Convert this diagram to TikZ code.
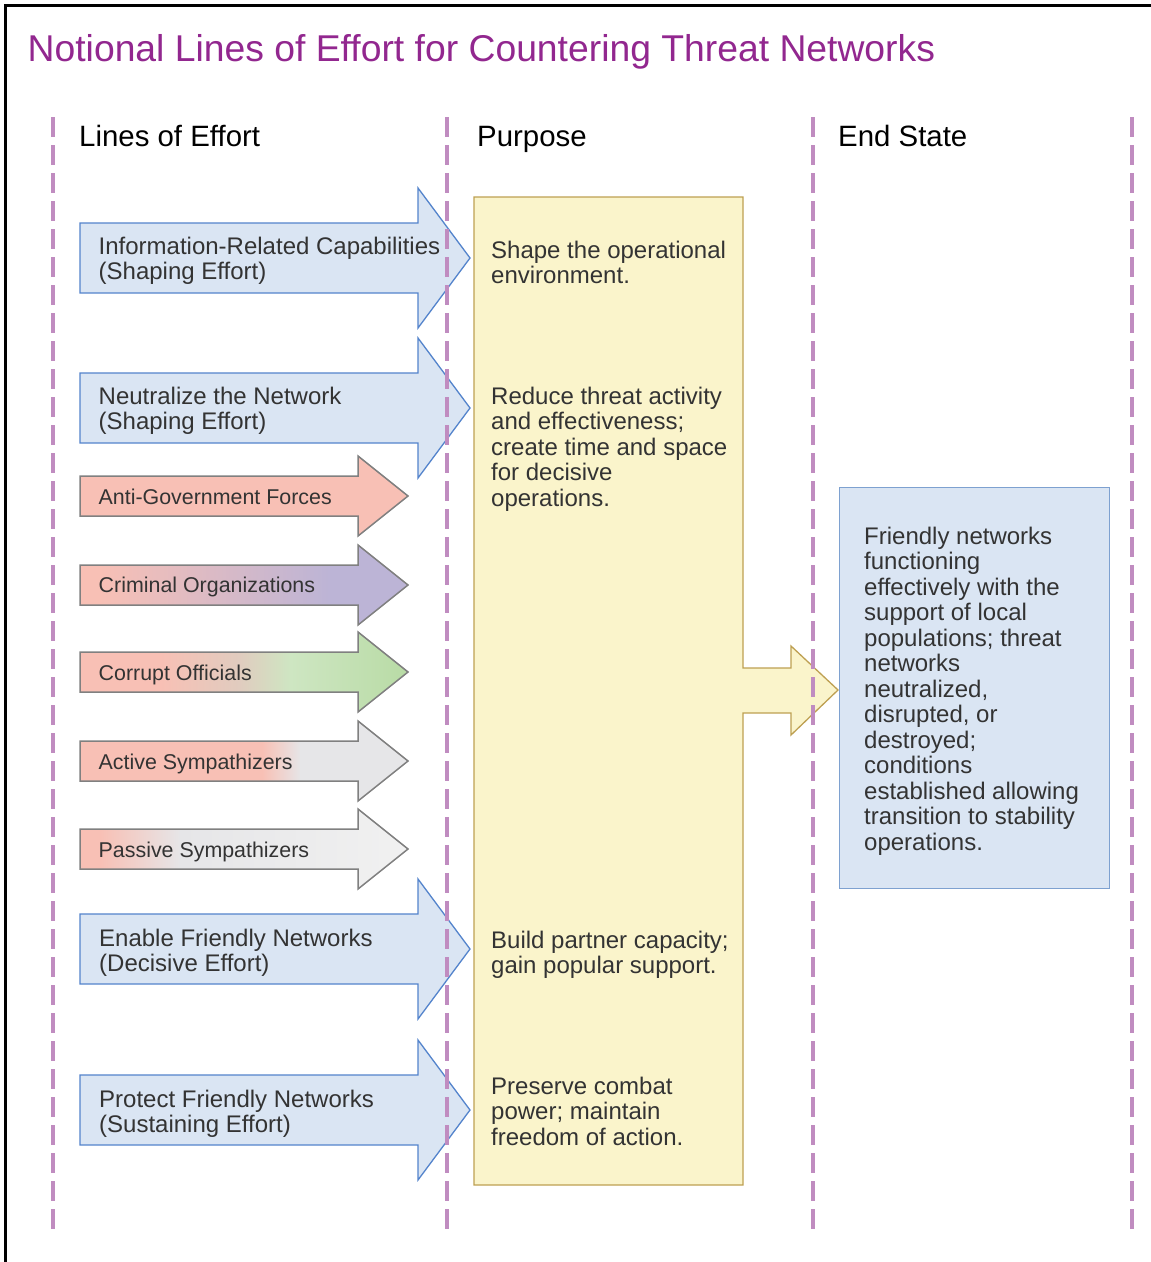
\documentclass[tikz,border=0pt]{standalone}
\usepackage{fontspec}
\setmainfont{Liberation Sans}
\definecolor{titlepurple}{RGB}{146,39,143}
\definecolor{guide}{RGB}{192,140,192}
\definecolor{bluefill}{RGB}{218,229,243}
\definecolor{bluedraw}{RGB}{84,132,204}
\definecolor{boxdraw}{RGB}{126,161,208}
\definecolor{salmon}{RGB}{248,192,181}
\definecolor{lilac}{RGB}{188,180,214}
\definecolor{leaf}{RGB}{184,219,165}
\definecolor{fog}{RGB}{230,230,232}
\definecolor{mist}{RGB}{241,241,241}
\definecolor{arrowgray}{RGB}{128,128,128}
\definecolor{cream}{RGB}{250,244,203}
\definecolor{creamdraw}{RGB}{190,160,82}
\definecolor{ink}{RGB}{51,51,51}
% multi-line text whose baseline is the first line
\newcommand\lns[1]{\parbox[t]{420pt}{\raggedright #1}}
% horizontal colour band inside a clipped arrow
\newcommand\loeband[5]{\shade[left color=#4,right color=#5] (#1,#3-42) rectangle (#2,#3+42);}
\begin{document}
\begin{tikzpicture}[x=1pt,y=-1pt,
  loe big/.style={insert path={(80,#1-35) -- (418,#1-35) -- (418,#1-70) -- (470,#1) -- (418,#1+70) -- (418,#1+35) -- (80,#1+35) -- cycle}},
  loe small/.style={insert path={(80,#1-20) -- (358,#1-20) -- (358,#1-40) -- (408,#1) -- (358,#1+40) -- (358,#1+20) -- (80,#1+20) -- cycle}},
  bigarrow/.style={fill=bluefill, draw=bluedraw, line width=1.3pt, line join=miter},
  smallrim/.style={draw=arrowgray, line width=1.5pt, line join=miter},
  body/.style={font=\fontsize{24}{25.5}\selectfont, text=ink, inner sep=0pt, anchor=base west},
  small/.style={font=\fontsize{21.4}{24}\selectfont, text=ink, inner sep=0pt, anchor=base west},
  head/.style={font=\fontsize{29.4}{31}\selectfont, text=black, inner sep=0pt, anchor=base west},
  guideline/.style={draw=guide, line width=4pt, dash pattern=on 20pt off 8pt},
]
\useasboundingbox (0,0) rectangle (1151,1262);
\fill[white] (0,0) rectangle (1151,1262);
% frame
\draw[line width=2.5pt] (5.3,1270) -- (5.3,5.3) -- (1160,5.3);

% title and column heads
\node[anchor=base west, inner sep=0pt, font=\fontsize{37.3}{40}\selectfont, text=titlepurple] (title) at (27.5,61.5) {Notional Lines of Effort for Countering Threat Networks};
\node[head] (hloe) at (79,146.5) {Lines of Effort};
\node[head] (hpurpose) at (477,146.5) {Purpose};
\node[head] (hend) at (838,146.5) {End State};

% purpose panel with its arrow into the end state
\draw[fill=cream, draw=creamdraw, line width=1.3pt, line join=miter]
  (474,197) -- (743,197) -- (743,668) -- (791,668) -- (791,646) -- (838,690)
  -- (791,735) -- (791,713) -- (743,713) -- (743,1185) -- (474,1185) -- cycle;

% end state box
\node[draw=boxdraw, fill=bluefill, line width=1.3pt, anchor=north west, inner sep=0pt,
  minimum width=270pt, minimum height=401pt] (endbox) at (839,487) {};

% blue lines of effort
\path[bigarrow, loe big=258];
\path[bigarrow, loe big=408];
\path[bigarrow, loe big=949];
\path[bigarrow, loe big=1110];

% threat network arrows
\begin{scope}
  \clip[loe small=496];
  \fill[salmon] (80,450) rectangle (410,540);
\end{scope}
\path[smallrim, loe small=496];

\begin{scope}
  \clip[loe small=585];
  \loeband{80}{101}{585}{salmon}{salmon}
  \loeband{100}{331}{585}{salmon}{lilac}
  \loeband{330}{410}{585}{lilac}{lilac}
\end{scope}
\path[smallrim, loe small=585];

\begin{scope}
  \clip[loe small=672];
  \definecolor{sand}{RGB}{224,204,191}
  \definecolor{sprout}{RGB}{206,230,194}
  \loeband{80}{161}{672}{salmon}{salmon}
  \loeband{160}{241}{672}{salmon}{sand}
  \loeband{240}{291}{672}{sand}{sprout}
  \loeband{290}{410}{672}{sprout}{leaf}
\end{scope}
\path[smallrim, loe small=672];

\begin{scope}
  \clip[loe small=761];
  \loeband{80}{263}{761}{salmon}{salmon}
  \loeband{262}{301}{761}{salmon}{fog}
  \loeband{300}{410}{761}{fog}{fog}
\end{scope}
\path[smallrim, loe small=761];

\begin{scope}
  \clip[loe small=849];
  \loeband{80}{101}{849}{salmon}{salmon}
  \loeband{100}{181}{849}{salmon}{fog}
  \loeband{180}{410}{849}{fog}{mist}
\end{scope}
\path[smallrim, loe small=849];

% arrow labels
\node[body] (irc) at (98.5,254) {\lns{Information-Related Capabilities\\(Shaping Effort)}};
\node[body] (ntn) at (98.5,404) {\lns{Neutralize the Network\\(Shaping Effort)}};
\node[small] (agf) at (98.5,504) {Anti-Government Forces};
\node[small] (cro) at (98.5,592.5) {Criminal Organizations};
\node[small] (cof) at (98.5,680.5) {Corrupt Officials};
\node[small] (asy) at (98.5,769) {Active Sympathizers};
\node[small] (psy) at (98.5,857.5) {Passive Sympathizers};
\node[body] (efn) at (99,946) {\lns{Enable Friendly Networks\\(Decisive Effort)}};
\node[body] (pfn) at (99,1107) {\lns{Protect Friendly Networks\\(Sustaining Effort)}};

% purposes
\node[body] (pshape) at (491,258) {\lns{Shape the operational\\environment.}};
\node[body] (preduce) at (491,404) {\lns{Reduce threat activity\\and effectiveness;\\create time and space\\for decisive\\operations.}};
\node[body] (pbuild) at (491,948) {\lns{Build partner capacity;\\gain popular support.}};
\node[body] (ppreserve) at (491,1094) {\lns{Preserve combat\\power; maintain\\freedom of action.}};

% end state
\node[body] (endtext) at (864,544) {\lns{Friendly networks\\functioning\\effectively with the\\support of local\\populations; threat\\networks\\neutralized,\\disrupted, or\\destroyed;\\conditions\\established allowing\\transition to stability\\operations.}};

% column guides
\foreach \gx in {53,447,813,1132}
  \draw[guideline] (\gx,117) -- (\gx,1229);
\end{tikzpicture}
\end{document}
